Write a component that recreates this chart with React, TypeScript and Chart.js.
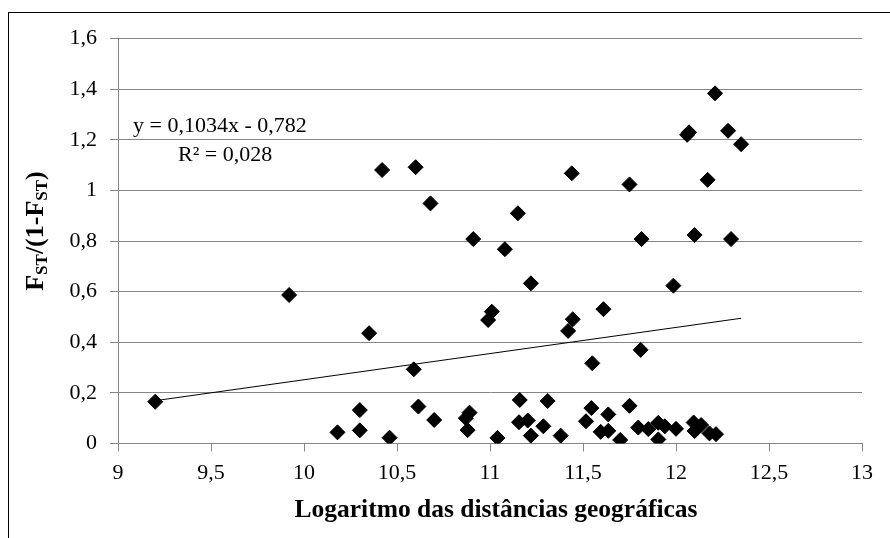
import React, { useEffect, useRef } from "react";
import { Chart, registerables } from "chart.js";

Chart.register(...registerables);

// Scatter points: log of geographic distance (x) vs FST/(1-FST) (y)
const X_VALUES: number[] = [
  9.2, 9.92, 10.35, 10.3, 10.18, 10.3, 10.46, 10.42, 10.6, 10.68,
  11.15, 11.44, 11.75, 10.91, 11.08, 11.22, 11.01, 10.99, 11.445, 11.42,
  11.61, 11.55, 10.59, 10.615, 10.7, 10.89, 10.87, 10.88, 11.04, 11.16,
  11.31, 11.156, 11.203, 11.287, 11.22, 11.38, 11.545, 11.516, 11.636, 11.75,
  11.595, 11.636, 11.7, 11.797, 11.851, 11.905, 11.94, 11.905, 12.0, 12.095,
  12.1, 12.135, 12.18, 12.215, 12.21, 12.06, 12.07, 12.28, 12.35, 12.17,
  11.815, 12.1, 12.296, 11.986, 11.81,
];
const Y_VALUES: number[] = [
  0.165, 0.587, 0.436, 0.132, 0.044, 0.052, 0.023, 1.081, 1.092, 0.949,
  0.91, 1.068, 1.024, 0.808, 0.768, 0.633, 0.521, 0.488, 0.491, 0.445,
  0.531, 0.317, 0.293, 0.146, 0.093, 0.122, 0.1, 0.053, 0.022, 0.172,
  0.168, 0.084, 0.091, 0.068, 0.031, 0.031, 0.14, 0.088, 0.115, 0.149,
  0.046, 0.05, 0.014, 0.063, 0.057, 0.082, 0.068, 0.016, 0.058, 0.083,
  0.049, 0.073, 0.04, 0.037, 1.384, 1.22, 1.23, 1.236, 1.183, 1.042,
  0.808, 0.824, 0.808, 0.624, 0.37,
];

// Linear trend line as printed on the chart
const TREND_SLOPE = 0.1034;
const TREND_INTERCEPT = -0.782;
const TREND_X_RANGE: number[] = [9.2, 12.35];
const EQUATION_LINES: string[] = ["y = 0,1034x - 0,782", "R\u00B2 = 0,028"];

const X_TICK_LABELS: string[] = ["9", "9,5", "10", "10,5", "11", "11,5", "12", "12,5", "13"];
const Y_TICK_LABELS: string[] = ["0", "0,2", "0,4", "0,6", "0,8", "1", "1,2", "1,4", "1,6"];
const X_TITLE = "Logaritmo das dist\u00E2ncias geogr\u00E1ficas";
// y title pieces: [text, isSubscript]
const Y_TITLE_PARTS: [string, boolean][] = [
  ["F", false],
  ["ST", true],
  ["/(1-F", false],
  ["ST", true],
  [")", false],
];

const SERIF = "'Liberation Serif', 'Times New Roman', serif";

export default function App() {
  const canvasRef = useRef<HTMLCanvasElement | null>(null);

  useEffect(() => {
    if (!canvasRef.current) return;
    const points = X_VALUES.map((x, i) => ({ x, y: Y_VALUES[i] }));
    const trend = TREND_X_RANGE.map((x) => ({ x, y: TREND_SLOPE * x + TREND_INTERCEPT }));

    const textPlugin = {
      id: "customText",
      afterDraw(chart: any) {
        const ctx = chart.ctx as CanvasRenderingContext2D;
        ctx.save();
        ctx.fillStyle = "#000";
        ctx.textBaseline = "middle";
        // equation
        ctx.font = `22px ${SERIF}`;
        ctx.textAlign = "left";
        ctx.fillText(EQUATION_LINES[0], 133, 126);
        ctx.fillText(EQUATION_LINES[1], 178, 155);
        // x title
        ctx.font = `bold 25.5px ${SERIF}`;
        ctx.textAlign = "center";
        ctx.fillText(X_TITLE, 496, 510);
        // y title (rotated)
        const mainFont = `bold 26px ${SERIF}`;
        const subFont = `bold 17px ${SERIF}`;
        let total = 0;
        Y_TITLE_PARTS.forEach(([t, sub]) => {
          ctx.font = sub ? subFont : mainFont;
          total += ctx.measureText(t).width;
        });
        ctx.translate(36, 231);
        ctx.rotate(-Math.PI / 2);
        ctx.textAlign = "left";
        ctx.textBaseline = "alphabetic";
        let cx = -total / 2;
        Y_TITLE_PARTS.forEach(([t, sub]) => {
          ctx.font = sub ? subFont : mainFont;
          ctx.fillText(t, cx, sub ? 11 : 7);
          cx += ctx.measureText(t).width;
        });
        ctx.restore();
      },
    };

    const chart = new Chart(canvasRef.current, {
      type: "scatter",
      data: {
        datasets: [
          {
            data: points,
            pointStyle: "rectRot",
            pointRadius: 7.5,
            pointHoverRadius: 7.5,
            backgroundColor: "#000",
            borderColor: "#000",
            borderWidth: 1,
            order: 0,
          },
          {
            data: trend,
            showLine: true,
            pointRadius: 0,
            borderColor: "#000",
            borderWidth: 1,
            order: 1,
          } as any,
        ],
      },
      options: {
        responsive: false,
        animation: false,
        devicePixelRatio: 1,
        layout: { padding: { top: 38.7, right: 28, left: 0, bottom: 0 } },
        plugins: { legend: { display: false }, tooltip: { enabled: false } },
        scales: {
          x: {
            type: "linear",
            min: 9,
            max: 13,
            afterFit: (s: any) => {
              s.height = 94.5;
            },
            afterBuildTicks: (s: any) => {
              s.ticks = X_TICK_LABELS.map((_, i) => ({ value: 9 + i * 0.5 }));
            },
            ticks: {
              callback: (_v: any, i: number) => X_TICK_LABELS[i],
              font: { family: SERIF, size: 22 },
              color: "#000",
              padding: 9,
              maxRotation: 0,
              autoSkip: false,
            },
            grid: { drawOnChartArea: false, drawTicks: true, tickLength: 8, color: "#868686" },
            border: { display: true, color: "#868686" },
          },
          y: {
            type: "linear",
            min: 0,
            max: 1.6,
            afterFit: (s: any) => {
              s.width = 118;
            },
            afterBuildTicks: (s: any) => {
              s.ticks = Y_TICK_LABELS.map((_, i) => ({ value: i * 0.2 }));
            },
            ticks: {
              callback: (_v: any, i: number) => Y_TICK_LABELS[i],
              font: { family: SERIF, size: 22 },
              color: "#000",
              padding: 13,
              autoSkip: false,
            },
            grid: { drawOnChartArea: true, drawTicks: true, tickLength: 8, color: "#868686" },
            border: { display: true, color: "#868686" },
          },
        },
      },
      plugins: [textPlugin],
    });
    return () => chart.destroy();
  }, []);

  return (
    <div style={{ position: "fixed", left: 0, top: 0, width: 890, height: 538, background: "#fff", overflow: "hidden" }}>
      <div
        style={{
          position: "absolute",
          left: 8,
          top: 12,
          width: 1000,
          height: 1000,
          borderLeft: "1px solid #000",
          borderTop: "1px solid #000",
        }}
      />
      <canvas ref={canvasRef} width={890} height={538} style={{ position: "absolute", left: 0, top: 0 }} />
    </div>
  );
}
